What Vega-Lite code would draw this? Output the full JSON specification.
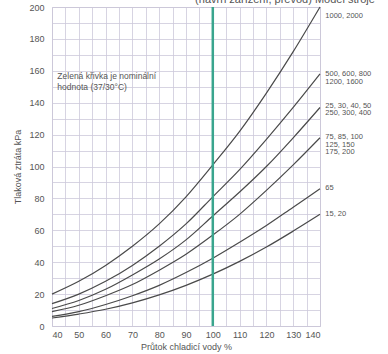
{
  "$schema": "https://vega.github.io/schema/vega-lite/v6.json",
  "width": 268,
  "height": 319,
  "autosize": {"type": "none"},
  "padding": {"left": 52, "top": 7, "right": 68, "bottom": 28},
  "background": "white",
  "config": {
    "view": {"stroke": "#c8c4d4", "strokeWidth": 1},
    "font": "Liberation Sans",
    "axis": {"labelFont": "Liberation Sans", "titleFont": "Liberation Sans", "labelColor": "#555", "titleColor": "#555", "labelFontSize": 9, "titleFontSize": 9, "titleFontWeight": "normal", "grid": true, "gridColor": "#cdc9da", "gridWidth": 0.8, "gridOpacity": 1, "domain": false, "ticks": false, "labelOverlap": false}
  },
  "datasets": {
    "curves": [
      {"s": "A", "x": 40, "y": 20}, {"s": "A", "x": 50, "y": 28}, {"s": "A", "x": 60, "y": 38}, {"s": "A", "x": 70, "y": 50}, {"s": "A", "x": 80, "y": 64}, {"s": "A", "x": 90, "y": 81}, {"s": "A", "x": 100, "y": 101}, {"s": "A", "x": 110, "y": 122}, {"s": "A", "x": 120, "y": 146}, {"s": "A", "x": 130, "y": 172}, {"s": "A", "x": 140, "y": 200},
      {"s": "B", "x": 40, "y": 14}, {"s": "B", "x": 50, "y": 20}, {"s": "B", "x": 60, "y": 28}, {"s": "B", "x": 70, "y": 38}, {"s": "B", "x": 80, "y": 50}, {"s": "B", "x": 90, "y": 64}, {"s": "B", "x": 100, "y": 81}, {"s": "B", "x": 110, "y": 98}, {"s": "B", "x": 120, "y": 117}, {"s": "B", "x": 130, "y": 137}, {"s": "B", "x": 140, "y": 158},
      {"s": "C", "x": 40, "y": 11}, {"s": "C", "x": 50, "y": 16}, {"s": "C", "x": 60, "y": 23}, {"s": "C", "x": 70, "y": 32}, {"s": "C", "x": 80, "y": 42}, {"s": "C", "x": 90, "y": 54}, {"s": "C", "x": 100, "y": 69}, {"s": "C", "x": 110, "y": 84}, {"s": "C", "x": 120, "y": 100}, {"s": "C", "x": 130, "y": 118}, {"s": "C", "x": 140, "y": 137},
      {"s": "D", "x": 40, "y": 9}, {"s": "D", "x": 50, "y": 13}, {"s": "D", "x": 60, "y": 19}, {"s": "D", "x": 70, "y": 26}, {"s": "D", "x": 80, "y": 35}, {"s": "D", "x": 90, "y": 45}, {"s": "D", "x": 100, "y": 57}, {"s": "D", "x": 110, "y": 70}, {"s": "D", "x": 120, "y": 85}, {"s": "D", "x": 130, "y": 101}, {"s": "D", "x": 140, "y": 118},
      {"s": "E", "x": 40, "y": 6}, {"s": "E", "x": 50, "y": 9}, {"s": "E", "x": 60, "y": 13.5}, {"s": "E", "x": 70, "y": 19}, {"s": "E", "x": 80, "y": 25.5}, {"s": "E", "x": 90, "y": 33.5}, {"s": "E", "x": 100, "y": 42.5}, {"s": "E", "x": 110, "y": 52.5}, {"s": "E", "x": 120, "y": 63}, {"s": "E", "x": 130, "y": 74.5}, {"s": "E", "x": 140, "y": 86},
      {"s": "F", "x": 40, "y": 5}, {"s": "F", "x": 50, "y": 7.5}, {"s": "F", "x": 60, "y": 10.5}, {"s": "F", "x": 70, "y": 14.5}, {"s": "F", "x": 80, "y": 19.5}, {"s": "F", "x": 90, "y": 25.5}, {"s": "F", "x": 100, "y": 32.5}, {"s": "F", "x": 110, "y": 40.5}, {"s": "F", "x": 120, "y": 49.5}, {"s": "F", "x": 130, "y": 59.5}, {"s": "F", "x": 140, "y": 70}
    ],
    "labels": [
      {"x": 142, "y": 197, "t": "1000, 2000"},
      {"x": 142, "y": 160.5, "t": "500, 600, 800|1200, 1600"},
      {"x": 142, "y": 140.5, "t": "25, 30, 40, 50|250, 300, 400"},
      {"x": 142, "y": 121, "t": "75, 85, 100|125, 150|175, 200"},
      {"x": 142, "y": 89, "t": "65"},
      {"x": 142, "y": 73, "t": "15, 20"}
    ],
    "notes": [
      {"x": 42, "y": 155, "t": "Zelená křivka je nominální|hodnota (37/30°C)", "k": "note"},
      {"x": 93.4, "y": 202.5, "t": "(návrh zařízení, převod)  Model stroje", "k": "top"}
    ]
  },
  "encoding": {
    "x": {"field": "x", "type": "quantitative", "scale": {"domain": [40, 140], "nice": false},
      "axis": {"values": [40,45,50,55,60,65,70,75,80,85,90,95,100,105,110,115,120,125,130,135,140], "labelExpr": "datum.value % 10 == 0 ? datum.label : ''", "title": "Průtok chladicí vody  %", "labelPadding": 4, "titlePadding": 3}}
  },
  "layer": [
    {
      "data": {"name": "curves"},
      "mark": {"type": "line", "color": "#4a4a4a", "strokeWidth": 1.2, "interpolate": "monotone"},
      "encoding": {
        "y": {"field": "y", "type": "quantitative", "scale": {"domain": [0, 200], "nice": false},
          "axis": {"values": [0,10,20,30,40,50,60,70,80,90,100,110,120,130,140,150,160,170,180,190,200], "labelExpr": "datum.value % 20 == 0 ? datum.label : ''", "title": "Tlaková ztráta  kPa", "labelPadding": 8, "titlePadding": 6}},
        "detail": {"field": "s"}
      }
    },
    {
      "data": {"values": [{"x": 100}]},
      "mark": {"type": "rule", "color": "#3aa58e", "strokeWidth": 2.5},
      "encoding": {}
    },
    {
      "data": {"name": "labels"},
      "mark": {"type": "text", "align": "left", "baseline": "top", "fontSize": 7.5, "lineHeight": 7.5, "lineBreak": "|", "color": "#555"},
      "encoding": {
        "y": {"field": "y", "type": "quantitative",
          "axis": {"values": [0,10,20,30,40,50,60,70,80,90,100,110,120,130,140,150,160,170,180,190,200], "labelExpr": "datum.value % 20 == 0 ? datum.label : ''", "title": "Tlaková ztráta  kPa", "labelPadding": 8, "titlePadding": 6}},
        "text": {"field": "t"}
      }
    },
    {
      "data": {"name": "notes"},
      "mark": {"type": "text", "align": "left", "baseline": "alphabetic", "lineHeight": 11, "lineBreak": "|", "color": "#555"},
      "encoding": {
        "y": {"field": "y", "type": "quantitative",
          "axis": {"values": [0,10,20,30,40,50,60,70,80,90,100,110,120,130,140,150,160,170,180,190,200], "labelExpr": "datum.value % 20 == 0 ? datum.label : ''", "title": "Tlaková ztráta  kPa", "labelPadding": 8, "titlePadding": 6}},
        "text": {"field": "t"},
        "size": {"field": "k", "type": "nominal", "scale": {"domain": ["note", "top"], "range": [8.5, 11]}, "legend": null}
      }
    }
  ]
}
